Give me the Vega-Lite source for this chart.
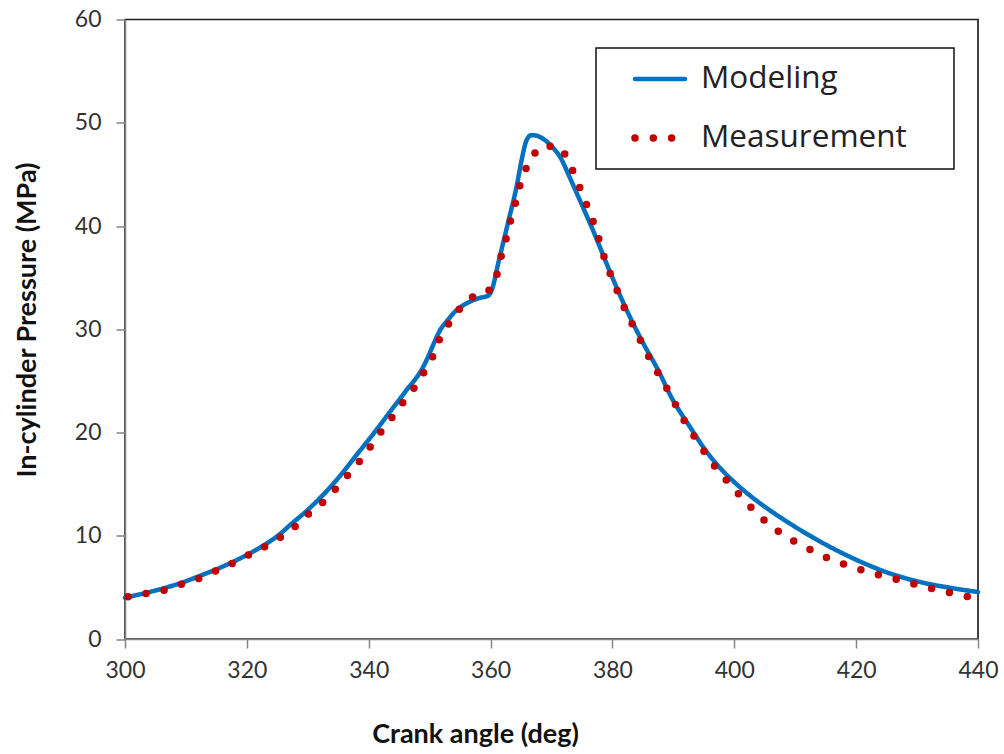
{
  "$schema": "https://vega.github.io/schema/vega-lite/v6.json",
  "width": 853,
  "height": 619.5,
  "autosize": {"type": "none"},
  "padding": {"left": 125, "top": 19.5, "right": 26, "bottom": 115},
  "background": "white",
  "datasets": {
    "modeling": [
      {"angle": 300, "pressure": 4.0, "series": "Modeling"},
      {"angle": 303, "pressure": 4.4, "series": "Modeling"},
      {"angle": 306, "pressure": 4.85, "series": "Modeling"},
      {"angle": 309.3, "pressure": 5.45, "series": "Modeling"},
      {"angle": 312, "pressure": 6.05, "series": "Modeling"},
      {"angle": 315, "pressure": 6.75, "series": "Modeling"},
      {"angle": 317.8, "pressure": 7.49, "series": "Modeling"},
      {"angle": 320.5, "pressure": 8.3, "series": "Modeling"},
      {"angle": 323.3, "pressure": 9.27, "series": "Modeling"},
      {"angle": 325.3, "pressure": 10.1, "series": "Modeling"},
      {"angle": 327.1, "pressure": 11.04, "series": "Modeling"},
      {"angle": 330, "pressure": 12.5, "series": "Modeling"},
      {"angle": 332.5, "pressure": 13.95, "series": "Modeling"},
      {"angle": 335.3, "pressure": 15.8, "series": "Modeling"},
      {"angle": 338, "pressure": 17.82, "series": "Modeling"},
      {"angle": 340.8, "pressure": 19.9, "series": "Modeling"},
      {"angle": 343.5, "pressure": 22.01, "series": "Modeling"},
      {"angle": 346.2, "pressure": 24.1, "series": "Modeling"},
      {"angle": 348.9, "pressure": 26.3, "series": "Modeling"},
      {"angle": 349.8, "pressure": 27.4, "series": "Modeling"},
      {"angle": 350.6, "pressure": 28.5, "series": "Modeling"},
      {"angle": 351.7, "pressure": 29.9, "series": "Modeling"},
      {"angle": 353, "pressure": 30.9, "series": "Modeling"},
      {"angle": 353.9, "pressure": 31.55, "series": "Modeling"},
      {"angle": 355.2, "pressure": 32.2, "series": "Modeling"},
      {"angle": 356.6, "pressure": 32.67, "series": "Modeling"},
      {"angle": 358, "pressure": 33.0, "series": "Modeling"},
      {"angle": 359.6, "pressure": 33.25, "series": "Modeling"},
      {"angle": 360.2, "pressure": 33.8, "series": "Modeling"},
      {"angle": 361.3, "pressure": 36.5, "series": "Modeling"},
      {"angle": 362.9, "pressure": 40.4, "series": "Modeling"},
      {"angle": 364.3, "pressure": 43.9, "series": "Modeling"},
      {"angle": 365.1, "pressure": 46.4, "series": "Modeling"},
      {"angle": 365.9, "pressure": 48.3, "series": "Modeling"},
      {"angle": 366.7, "pressure": 48.8, "series": "Modeling"},
      {"angle": 367.5, "pressure": 48.75, "series": "Modeling"},
      {"angle": 368.9, "pressure": 48.33, "series": "Modeling"},
      {"angle": 370.2, "pressure": 47.6, "series": "Modeling"},
      {"angle": 371.4, "pressure": 46.7, "series": "Modeling"},
      {"angle": 373, "pressure": 44.7, "series": "Modeling"},
      {"angle": 374.5, "pressure": 42.7, "series": "Modeling"},
      {"angle": 376.8, "pressure": 39.6, "series": "Modeling"},
      {"angle": 379.5, "pressure": 35.7, "series": "Modeling"},
      {"angle": 382.3, "pressure": 31.9, "series": "Modeling"},
      {"angle": 385, "pressure": 28.7, "series": "Modeling"},
      {"angle": 387.8, "pressure": 25.7, "series": "Modeling"},
      {"angle": 389.5, "pressure": 23.6, "series": "Modeling"},
      {"angle": 392.7, "pressure": 20.56, "series": "Modeling"},
      {"angle": 395.5, "pressure": 18.1, "series": "Modeling"},
      {"angle": 398, "pressure": 16.35, "series": "Modeling"},
      {"angle": 400, "pressure": 15.19, "series": "Modeling"},
      {"angle": 403, "pressure": 13.69, "series": "Modeling"},
      {"angle": 406, "pressure": 12.4, "series": "Modeling"},
      {"angle": 409.1, "pressure": 11.19, "series": "Modeling"},
      {"angle": 414.6, "pressure": 9.27, "series": "Modeling"},
      {"angle": 420.1, "pressure": 7.65, "series": "Modeling"},
      {"angle": 425.5, "pressure": 6.36, "series": "Modeling"},
      {"angle": 431, "pressure": 5.45, "series": "Modeling"},
      {"angle": 435.5, "pressure": 4.95, "series": "Modeling"},
      {"angle": 440, "pressure": 4.55, "series": "Modeling"}
    ],
    "measurement": [
      {"angle": 300.5, "pressure": 4.1, "series": "Measurement"},
      {"angle": 303.6, "pressure": 4.43, "series": "Measurement"},
      {"angle": 306.6, "pressure": 4.75, "series": "Measurement"},
      {"angle": 309.4, "pressure": 5.33, "series": "Measurement"},
      {"angle": 312.2, "pressure": 5.88, "series": "Measurement"},
      {"angle": 314.9, "pressure": 6.59, "series": "Measurement"},
      {"angle": 317.7, "pressure": 7.33, "series": "Measurement"},
      {"angle": 320.3, "pressure": 8.14, "series": "Measurement"},
      {"angle": 322.9, "pressure": 8.94, "series": "Measurement"},
      {"angle": 325.5, "pressure": 9.85, "series": "Measurement"},
      {"angle": 327.9, "pressure": 10.88, "series": "Measurement"},
      {"angle": 330.1, "pressure": 12.11, "series": "Measurement"},
      {"angle": 332.4, "pressure": 13.2, "series": "Measurement"},
      {"angle": 334.5, "pressure": 14.5, "series": "Measurement"},
      {"angle": 336.5, "pressure": 15.82, "series": "Measurement"},
      {"angle": 338.4, "pressure": 17.14, "series": "Measurement"},
      {"angle": 340.2, "pressure": 18.57, "series": "Measurement"},
      {"angle": 341.9, "pressure": 19.98, "series": "Measurement"},
      {"angle": 343.7, "pressure": 21.37, "series": "Measurement"},
      {"angle": 345.5, "pressure": 22.83, "series": "Measurement"},
      {"angle": 347.3, "pressure": 24.18, "series": "Measurement"},
      {"angle": 348.9, "pressure": 25.67, "series": "Measurement"},
      {"angle": 350.4, "pressure": 27.19, "series": "Measurement"},
      {"angle": 351.4, "pressure": 28.8, "series": "Measurement"},
      {"angle": 352.9, "pressure": 30.34, "series": "Measurement"},
      {"angle": 354.6, "pressure": 31.77, "series": "Measurement"},
      {"angle": 356.7, "pressure": 33.06, "series": "Measurement"},
      {"angle": 359.5, "pressure": 33.54, "series": "Measurement"},
      {"angle": 360.9, "pressure": 34.9, "series": "Measurement"},
      {"angle": 361.5, "pressure": 36.61, "series": "Measurement"},
      {"angle": 362.4, "pressure": 38.32, "series": "Measurement"},
      {"angle": 363.0, "pressure": 40.0, "series": "Measurement"},
      {"angle": 363.9, "pressure": 41.71, "series": "Measurement"},
      {"angle": 364.5, "pressure": 43.42, "series": "Measurement"},
      {"angle": 365.5, "pressure": 45.1, "series": "Measurement"},
      {"angle": 366.6, "pressure": 46.71, "series": "Measurement"},
      {"angle": 368.7, "pressure": 47.84, "series": "Measurement"},
      {"angle": 371.7, "pressure": 47.52, "series": "Measurement"},
      {"angle": 373.0, "pressure": 46.0, "series": "Measurement"},
      {"angle": 374.2, "pressure": 44.39, "series": "Measurement"},
      {"angle": 375.3, "pressure": 42.74, "series": "Measurement"},
      {"angle": 376.4, "pressure": 41.13, "series": "Measurement"},
      {"angle": 377.4, "pressure": 39.52, "series": "Measurement"},
      {"angle": 378.2, "pressure": 37.84, "series": "Measurement"},
      {"angle": 379.1, "pressure": 36.13, "series": "Measurement"},
      {"angle": 380.3, "pressure": 34.45, "series": "Measurement"},
      {"angle": 381.4, "pressure": 32.83, "series": "Measurement"},
      {"angle": 382.6, "pressure": 31.22, "series": "Measurement"},
      {"angle": 384.0, "pressure": 29.67, "series": "Measurement"},
      {"angle": 385.3, "pressure": 28.06, "series": "Measurement"},
      {"angle": 386.7, "pressure": 26.54, "series": "Measurement"},
      {"angle": 388.2, "pressure": 25.08, "series": "Measurement"},
      {"angle": 389.6, "pressure": 23.53, "series": "Measurement"},
      {"angle": 391.0, "pressure": 22.01, "series": "Measurement"},
      {"angle": 392.4, "pressure": 20.47, "series": "Measurement"},
      {"angle": 394.2, "pressure": 19.01, "series": "Measurement"},
      {"angle": 395.7, "pressure": 17.5, "series": "Measurement"},
      {"angle": 397.6, "pressure": 16.15, "series": "Measurement"},
      {"angle": 399.6, "pressure": 14.75, "series": "Measurement"},
      {"angle": 401.6, "pressure": 13.46, "series": "Measurement"},
      {"angle": 403.7, "pressure": 12.17, "series": "Measurement"},
      {"angle": 405.8, "pressure": 11.04, "series": "Measurement"},
      {"angle": 408.2, "pressure": 10.0, "series": "Measurement"},
      {"angle": 410.9, "pressure": 9.1, "series": "Measurement"},
      {"angle": 413.5, "pressure": 8.36, "series": "Measurement"},
      {"angle": 416.2, "pressure": 7.58, "series": "Measurement"},
      {"angle": 419.0, "pressure": 7.07, "series": "Measurement"},
      {"angle": 421.9, "pressure": 6.49, "series": "Measurement"},
      {"angle": 424.8, "pressure": 6.03, "series": "Measurement"},
      {"angle": 427.7, "pressure": 5.62, "series": "Measurement"},
      {"angle": 430.6, "pressure": 5.16, "series": "Measurement"},
      {"angle": 433.5, "pressure": 4.72, "series": "Measurement"},
      {"angle": 436.4, "pressure": 4.36, "series": "Measurement"},
      {"angle": 439.3, "pressure": 3.97, "series": "Measurement"}
    ]
  },
  "encoding": {
    "x": {
      "field": "angle", "type": "quantitative",
      "scale": {"domain": [300, 440], "nice": false, "zero": false},
      "axis": {
        "values": [300, 320, 340, 360, 380, 400, 420, 440],
        "title": "Crank angle (deg)",
        "labelFlush": false, "labelOverlap": false, "labelPadding": 11,
        "titleX": 350, "titleY": 103, "titleBaseline": "alphabetic", "titleAlign": "center"
      }
    },
    "y": {
      "field": "pressure", "type": "quantitative",
      "scale": {"domain": [0, 60], "nice": false},
      "axis": {
        "values": [0, 10, 20, 30, 40, 50, 60],
        "title": "In-cylinder Pressure (MPa)",
        "labelPadding": 15, "labelOverlap": false,
        "titleX": -98, "titleY": 300, "titleAngle": -90, "titleBaseline": "middle", "titleAlign": "center"
      }
    },
    "color": {
      "field": "series", "type": "nominal",
      "scale": {"domain": ["Modeling", "Measurement"], "range": ["#0070C0", "#C00000"]},
      "legend": {
        "orient": "none", "legendX": 471, "legendY": 28.5,
        "title": " ", "titleOrient": "right", "titlePadding": 32,
        "padding": 15, "strokeColor": "#111",
        "symbolType": "stroke", "symbolSize": 2500, "symbolOffset": 20,
        "clipHeight": 32,
        "labelOffset": 12, "labelFontSize": 31.5, "labelFont": "Open Sans", "labelColor": "#222",
        "labelLimit": 400,
        "rowPadding": 27,
        "encode": {"symbols": {"update": {"strokeCap": {"value": "round"}}}}
      }
    },
    "strokeDash": {
      "field": "series", "type": "nominal",
      "scale": {"domain": ["Modeling", "Measurement"], "range": [[1, 0], [0, 18.3]]}
    },
    "strokeWidth": {
      "field": "series", "type": "nominal",
      "scale": {"domain": ["Modeling", "Measurement"], "range": [4.5, 7.5]}
    }
  },
  "layer": [
    {
      "data": {"name": "modeling"},
      "mark": {"type": "line", "interpolate": "monotone", "strokeCap": "round", "strokeJoin": "round"}
    },
    {
      "data": {"name": "measurement"},
      "mark": {"type": "line", "strokeCap": "round"}
    }
  ],
  "config": {
    "view": {"stroke": "#222", "strokeWidth": 1.7},
    "axis": {
      "grid": false,
      "domainColor": "#868686", "domainWidth": 1.6,
      "tickColor": "#868686", "tickWidth": 1.5, "tickSize": 9,
      "labelFont": "Lato", "labelFontSize": 23, "labelColor": "#333",
      "titleFont": "Lato", "titleFontWeight": "bold", "titleFontSize": 27, "titleColor": "#111"
    },
    "legend": {"strokeWidth": 1.5}
  }
}
